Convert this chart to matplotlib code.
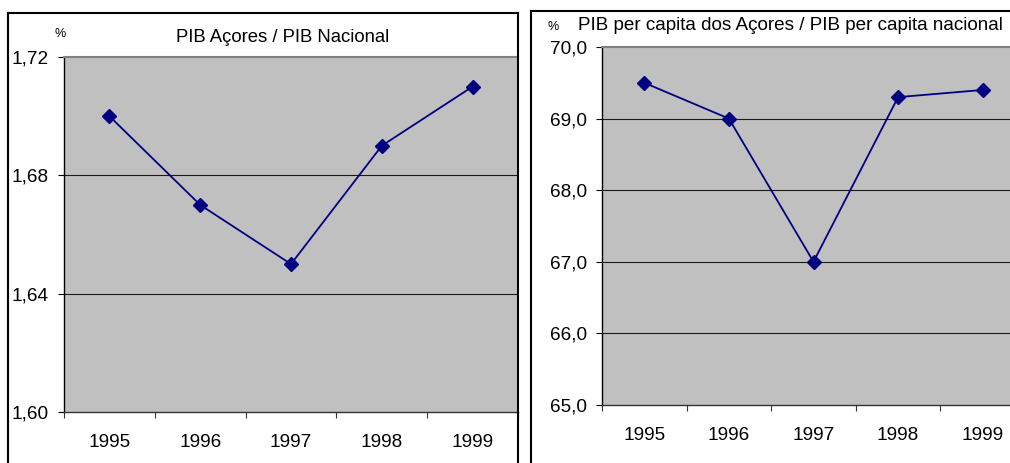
import matplotlib
matplotlib.use("Agg")
import matplotlib.pyplot as plt
from matplotlib.lines import Line2D

plt.rcParams['font.family'] = ['Liberation Sans', 'DejaVu Sans']

years = ['1995', '1996', '1997', '1998', '1999']
pib_ratio = [1.70, 1.67, 1.65, 1.69, 1.71]
pib_pc_ratio = [69.5, 69.0, 67.0, 69.3, 69.4]
left_yticks = [1.60, 1.64, 1.68, 1.72]
left_ylabels = ['1,60', '1,64', '1,68', '1,72']
right_yticks = [65, 66, 67, 68, 69, 70]
right_ylabels = ['65,0', '66,0', '67,0', '68,0', '69,0', '70,0']
left_title = 'PIB Açores / PIB Nacional'
right_title = 'PIB per capita dos Açores / PIB per capita nacional'

W, H = 1010, 463
fig = plt.figure(figsize=(W / 100, H / 100), dpi=100)
fig.patch.set_facecolor('white')


def px_axes(x0, y0, x1, y1):
    return fig.add_axes([x0 / W, (H - y1) / H, (x1 - x0) / W, (y1 - y0) / H])


def style(ax, values, yticks, ylabels, ylim):
    ax.set_facecolor('#C0C0C0')
    x = list(range(len(years)))
    ax.plot(x, values, color='#000080', lw=1.3, marker='D', ms=6.8,
            mfc='#000080', mec='#000080', zorder=3, clip_on=False)
    ax.set_xlim(-0.5, len(years) - 0.5)
    ax.set_ylim(*ylim)
    ax.set_xticks([i - 0.5 for i in range(len(years) + 1)])
    ax.set_xticklabels([])
    ax.set_xticks(x, minor=True)
    ax.set_xticklabels(years, minor=True, fontsize=13.7)
    ax.tick_params(axis='x', which='major', direction='out', length=4, width=0.8, color='#333333')
    ax.tick_params(axis='x', which='minor', length=0, pad=15.5)
    ax.set_yticks(yticks)
    ax.set_yticklabels(ylabels, fontsize=13.7)
    ax.tick_params(axis='y', direction='out', length=4, width=0.8, pad=7, color='black')
    for yv in yticks[1:-1]:
        ax.axhline(yv, color='#1a1a1a', lw=0.8, zorder=1)
    ax.spines['left'].set_color('black')
    ax.spines['left'].set_linewidth(1.0)
    ax.spines['bottom'].set_color('#333333')
    ax.spines['bottom'].set_linewidth(1.0)
    ax.spines['top'].set_color('#808080')
    ax.spines['top'].set_linewidth(1.5)
    ax.spines['right'].set_visible(False)


ax1 = px_axes(64, 57, 518, 412)
style(ax1, pib_ratio, left_yticks, left_ylabels, (1.60, 1.72))

ax2 = px_axes(602, 47, 1025, 405)
style(ax2, pib_pc_ratio, right_yticks, right_ylabels, (65, 70))

# overlay for frames and titles
ov = fig.add_axes([0, 0, 1, 1], zorder=10)
ov.set_xlim(0, W)
ov.set_ylim(H, 0)
ov.axis('off')
ov.patch.set_alpha(0)

for xs, ys in [([8, 8], [13, 470]), ([8, 518], [13, 13]), ([518, 518], [13, 470]),
               ([531, 531], [11, 470]), ([531, 1020], [11, 11])]:
    ov.add_line(Line2D(xs, ys, color='black', lw=1.5, solid_capstyle='projecting'))

ov.text(60, 34, '%', fontsize=9, ha='center', va='center')
ov.text(283, 37, left_title, fontsize=13.3, ha='center', va='center')
ov.text(553, 27, '%', fontsize=9, ha='center', va='center')
ov.text(578, 26, right_title, fontsize=13.6, ha='left', va='center')

fig.savefig('out.png', dpi=100)
